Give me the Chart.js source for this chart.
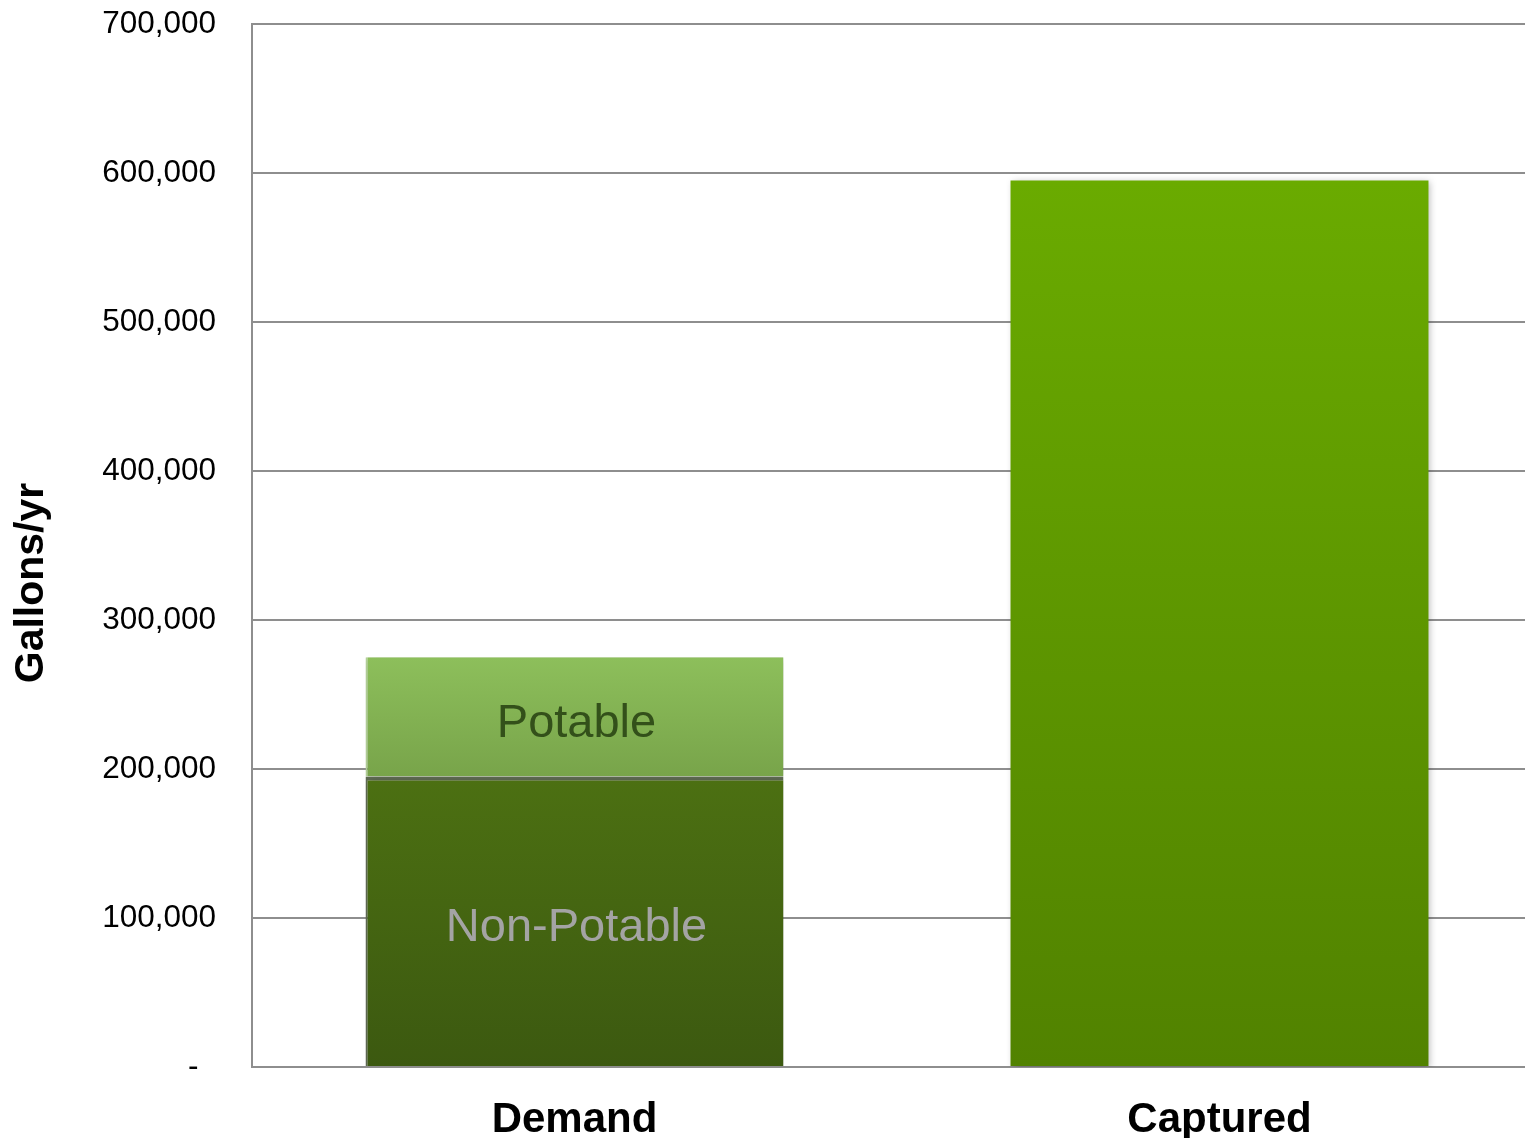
<!DOCTYPE html>
<html>
<head>
<meta charset="utf-8">
<script src="https://cdn.jsdelivr.net/npm/chart.js@4"></script>
<style>
  html, body { margin: 0; padding: 0; background: #fff; overflow: hidden; }
  #wrap { width: 1545px; height: 1138px; }
</style>
</head>
<body>
<div id="wrap"><canvas id="chart" width="1545" height="1138"></canvas></div>
<script>
// Data
const categories = ['Demand', 'Captured'];
const nonPotable = [195000, null];
const potable = [80000, null];
const captured = [null, 595000];
const yTicks = [0, 100000, 200000, 300000, 400000, 500000, 600000, 700000];
const axisTitle = 'Gallons/yr';

const FONT = '"Liberation Sans", Arial, sans-serif';

// Vertical gradient spanning one bar, from its top value to its bottom value
function barGradient(context, top, bottom, c1, c2) {
    const chart = context.chart;
    if (!chart.chartArea) return c2;
    const y = chart.scales.y;
    const g = chart.ctx.createLinearGradient(0, y.getPixelForValue(top), 0, y.getPixelForValue(bottom));
    g.addColorStop(0, c1);
    g.addColorStop(1, c2);
    return g;
}

// Soft drop shadow under the bars
const shadowPlugin = {
    id: 'barShadow',
    beforeDatasetsDraw(chart) {
        const ctx = chart.ctx;
        ctx.save();
        ctx.shadowColor = 'rgba(0,0,0,0.28)';
        ctx.shadowBlur = 7;
        ctx.shadowOffsetX = 2;
        ctx.shadowOffsetY = 2;
    },
    afterDatasetsDraw(chart) {
        chart.ctx.restore();
    }
};

// Text labels inside the demand bar, plus the rotated axis title
const labelPlugin = {
    id: 'barLabels',
    afterDatasetsDraw(chart) {
        const ctx = chart.ctx;
        ctx.save();
        ctx.textAlign = 'center';
        ctx.textBaseline = 'middle';
        ctx.font = '47px ' + FONT;
        chart.data.datasets.forEach((ds, i) => {
            if (!ds.inside) return;
            const bar = chart.getDatasetMeta(i).data[0];
            ctx.fillStyle = ds.insideColor;
            ctx.fillText(ds.label, bar.x + 2, (bar.y + bar.base) / 2 + 7);
        });
        ctx.translate(32, 583);
        ctx.rotate(-Math.PI / 2);
        ctx.font = 'bold 41px ' + FONT;
        ctx.fillStyle = '#000';
        ctx.fillText(axisTitle, 0, 0);
        ctx.restore();
    }
};

const ctx = document.getElementById('chart').getContext('2d');
new Chart(ctx, {
    type: 'bar',
    data: {
        labels: categories,
        datasets: [
            {
                label: 'Non-Potable',
                data: nonPotable,
                inside: true,
                insideColor: '#a4a4a4',
                backgroundColor: c => barGradient(c, nonPotable[0], 0, '#4c7012', '#3c5910'),
                borderColor: '#5e6a52',
                borderWidth: { top: 4, left: 2, right: 0, bottom: 0 },
                borderSkipped: false
            },
            {
                label: 'Potable',
                data: potable,
                inside: true,
                insideColor: '#33501a',
                backgroundColor: c => barGradient(c, nonPotable[0] + potable[0], nonPotable[0], '#8dbf5b', '#78a44a'),
                borderColor: '#b5d39a',
                borderWidth: { top: 0, left: 2, right: 0, bottom: 0 },
                borderSkipped: false
            },
            {
                label: 'Captured',
                data: captured,
                backgroundColor: c => barGradient(c, captured[1], 0, '#6aab00', '#518200'),
                borderWidth: 0
            }
        ]
    },
    options: {
        responsive: false,
        animation: false,
        devicePixelRatio: 1,
        layout: { padding: { top: 24, right: 3, left: 0, bottom: 0 } },
        plugins: {
            legend: { display: false },
            tooltip: { enabled: false }
        },
        datasets: {
            bar: { barPercentage: 1, categoryPercentage: 0.648 }
        },
        scales: {
            x: {
                stacked: true,
                grid: { display: false },
                border: { display: false },
                ticks: {
                    color: '#000',
                    padding: 20,
                    font: { family: FONT, size: 42, weight: 'bold' }
                },
                afterFit(scale) {
                    scale.height = 71;
                    scale.paddingLeft = 0;
                    scale.paddingRight = 0;
                }
            },
            y: {
                stacked: true,
                min: 0,
                max: 700000,
                afterBuildTicks(scale) {
                    scale.ticks = yTicks.map(v => ({ value: v }));
                },
                grid: { color: '#8e8e8e', lineWidth: 2, drawTicks: false },
                border: { display: true, color: '#8e8e8e', width: 2 },
                ticks: {
                    color: '#000',
                    padding: 36,
                    font: { family: FONT, size: 31.5 },
                    callback: v => v === 0 ? '-  ' : v.toLocaleString('en-US')
                },
                afterFit(scale) {
                    scale.width = 252;
                    scale.paddingTop = 0;
                    scale.paddingBottom = 0;
                }
            }
        }
    },
    plugins: [shadowPlugin, labelPlugin]
});
</script>
</body>
</html>
